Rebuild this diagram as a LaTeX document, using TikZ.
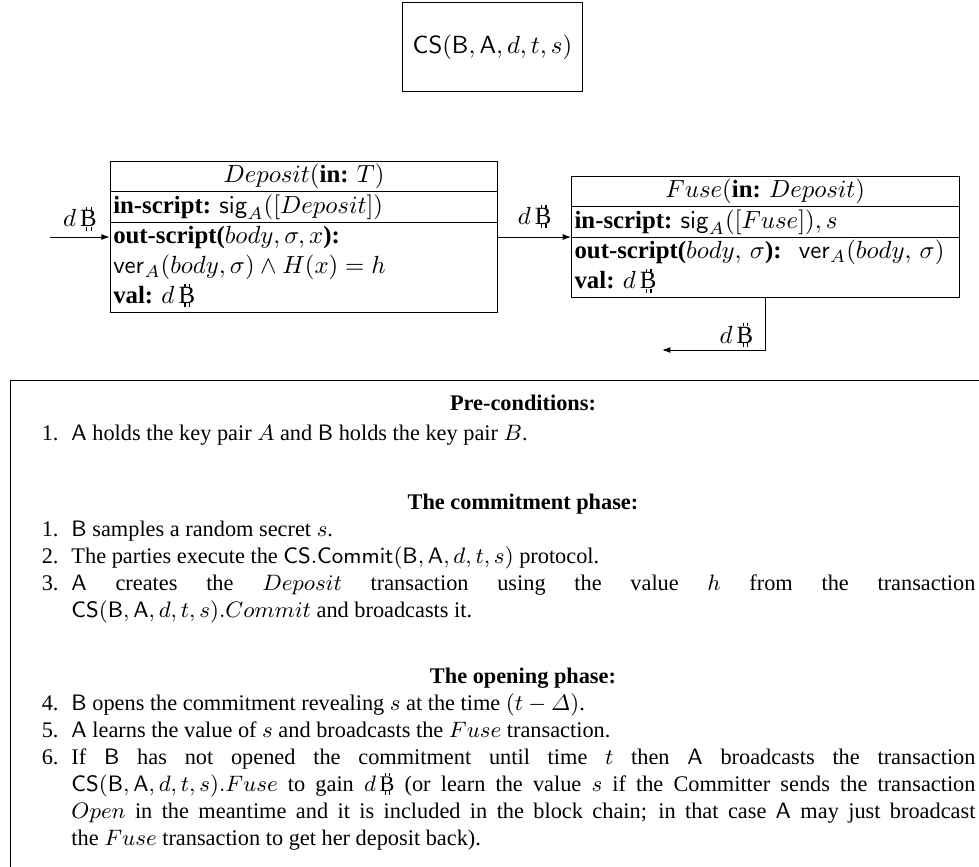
\documentclass[tikz,border=0pt]{standalone}
\usepackage{amsmath}
\usepackage[no-math]{fontspec}
\setmainfont{Liberation Serif}
\usetikzlibrary{positioning,arrows.meta}
\tolerance=10000
\hyphenpenalty=10000
\newcommand{\btc}{\mbox{\rlap{\hspace{0.24em}\rule[-0.16em]{0.05em}{0.16em}\hspace{0.13em}\rule[-0.16em]{0.05em}{0.16em}}\rlap{\hspace{0.24em}\rule[0.67em]{0.05em}{0.12em}\hspace{0.13em}\rule[0.67em]{0.05em}{0.12em}}B}}
\tikzset{
  csbox/.style={draw, minimum width=72.2pt, minimum height=35.5pt, font=\fontsize{10}{12}\selectfont},
  txbox/.style={draw, inner sep=0pt, font=\fontsize{10}{12}\selectfont},
  flow/.style={-{Latex[length=3.4pt,width=2.4pt]}},
  amt/.style={above, font=\fontsize{10}{12}\selectfont},
  head/.style={anchor=base, inner sep=0pt, font=\fontsize{9}{10.9}\selectfont\bfseries},
  itemno/.style={anchor=base east, inner sep=0pt, font=\fontsize{9}{10.9}\selectfont},
  itemtext/.style={anchor=base west, inner sep=0pt, text width=364.5pt, align=justify,
    font=\fontsize{9}{10.9}\selectfont}
}
\begin{document}
\begin{tikzpicture}[x=0.4032pt,y=-0.4032pt]
\useasboundingbox (0,0) rectangle (979,867);
% commitment scheme
\node[csbox] (cs) at (492.5,47) {$\mathsf{CS}(\mathsf{B},\mathsf{A},d,t,s)$};
% transactions
\node[txbox] (dep) at (304,237) {\begin{tabular}{@{\hspace{1.2pt}}p{155pt}@{}}
\multicolumn{1}{@{}c@{}}{$Deposit(\text{\textbf{in:} }T)$}\\ \hline
\textbf{in-script:} $\mathsf{sig}_A([Deposit])$\\ \hline
\textbf{out-script(}$body,\sigma,x$\textbf{):}\\
$\mathsf{ver}_A(body,\sigma)\wedge H(x)=h$\\
\textbf{val:} $d$\,\btc
\end{tabular}};
\node[txbox, right=29.4pt of dep] (fuse) {\begin{tabular}{@{\hspace{1.2pt}}p{155pt}@{}}
\multicolumn{1}{@{}c@{}}{$Fuse(\text{\textbf{in:} }Deposit)$}\\ \hline
\textbf{in-script:} $\mathsf{sig}_A([Fuse]),s$\\ \hline
\textbf{out-script(}$body,\,\sigma$\textbf{):}\hspace{0.7em}$\mathsf{ver}_A(body,\,\sigma)$\\
\textbf{val:} $d$\,\btc
\end{tabular}};
% money flow
\coordinate (src) at (50,237);
\coordinate (sink) at (662,350);
\draw[flow] (src) -- node[amt, inner sep=2.4pt] {$d$\,\btc} (dep.west);
\draw[flow] (dep.east) -- node[amt] {$d$\,\btc} (fuse.west);
\draw[flow] (fuse.south) |- node[amt, inner sep=1pt, pos=0.64] {$d$\,\btc} (sink);
% protocol description
\draw (979,380) -- (10,380) -- (10,867);
\node[head] (pre) at (523,410) {Pre-conditions:};
\node[head] (com) at (523,509) {The commitment phase:};
\node[head] (opn) at (523,683) {The opening phase:};
\foreach \k/\n/\y in {p/1/440, a/1/536, b/2/563, c/3/590, d/4/710, e/5/737, f/6/764}
  \node[itemno] (no\k) at (59,\y) {\n.};
\node[itemtext] (tp) at (71,440) {$\mathsf{A}$ holds the key pair $A$ and $\mathsf{B}$ holds the key pair $B$.};
\node[itemtext] (ta) at (71,536) {$\mathsf{B}$ samples a random secret $s$.};
\node[itemtext] (tb) at (71,563) {The parties execute the $\mathsf{CS.Commit}(\mathsf{B},\mathsf{A},d,t,s)$ protocol.};
\node[itemtext] (tc) at (71,590) {$\mathsf{A}$ creates the $Deposit$ transaction using the value $h$ from the transaction\linebreak
$\mathsf{CS}(\mathsf{B},\mathsf{A},d,t,s).Commit$ and broadcasts it.};
\node[itemtext] (td) at (71,710) {$\mathsf{B}$ opens the commitment revealing $s$ at the time $(t-\varDelta)$.};
\node[itemtext] (te) at (71,737) {$\mathsf{A}$ learns the value of $s$ and broadcasts the $Fuse$ transaction.};
\node[itemtext] (tf) at (71,764) {If $\mathsf{B}$ has not opened the commitment until time $t$ then $\mathsf{A}$ broadcasts the transaction\linebreak
$\mathsf{CS}(\mathsf{B},\mathsf{A},d,t,s).Fuse$ to gain $d$\,\btc{} (or learn the value $s$ if the Committer sends the transaction\linebreak
$Open$ in the meantime and it is included in the block chain; in that case $\mathsf{A}$ may just broadcast\linebreak
the $Fuse$ transaction to get her deposit back).};
\end{tikzpicture}
\end{document}
